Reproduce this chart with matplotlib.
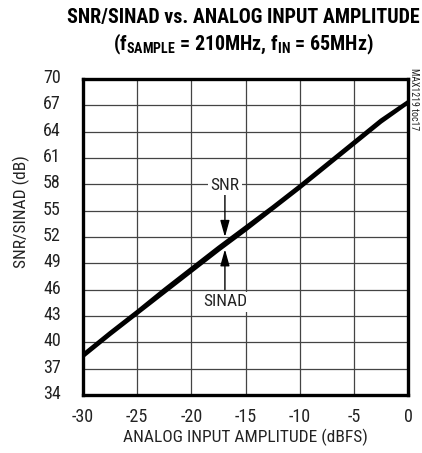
import matplotlib
matplotlib.use("Agg")
import matplotlib.pyplot as plt
import matplotlib.transforms as mtransforms
from matplotlib import font_manager

amplitude_dbfs = [-30, -27.5, -25, -22.5, -20, -17.5, -15, -12.5, -10, -7.5, -5, -2.5, 0]
snr_db = [38.6, 41.1, 43.5, 46.0, 48.4, 50.8, 53.1, 55.4, 57.8, 60.3, 62.8, 65.3, 67.4]
sinad_db = [38.4, 40.9, 43.3, 45.7, 48.1, 50.5, 52.8, 55.2, 57.6, 60.1, 62.6, 65.1, 67.3]
x_ticks = [-30, -25, -20, -15, -10, -5, 0]
y_ticks = [34, 37, 40, 43, 46, 49, 52, 55, 58, 61, 64, 67, 70]

names = {f.name for f in font_manager.fontManager.ttflist}
narrow = "Roboto Condensed" if "Roboto Condensed" in names else "DejaVu Sans"
plt.rcParams['font.family'] = [narrow, 'DejaVu Sans']
plt.rcParams['mathtext.fontset'] = 'custom'
plt.rcParams['mathtext.rm'] = narrow
plt.rcParams['mathtext.bf'] = narrow + ':bold'

TXT = '#222222'
fig = plt.figure(figsize=(4.22, 4.53), dpi=100)
ax = fig.add_axes([83/422, 1-395/453, (408-83)/422, (395-79)/453])

ax.set_xlim(-30, 0)
ax.set_ylim(34, 70)
ax.set_xticks(x_ticks)
ax.set_yticks(y_ticks)
ax.set_xticklabels([str(v) for v in x_ticks])
ax.set_yticklabels([str(v) for v in y_ticks])
ax.tick_params(length=0, labelsize=13, colors=TXT)
ax.tick_params(axis='x', pad=9)
ax.tick_params(axis='y', pad=16)
up = mtransforms.ScaledTranslation(0, 3/100, fig.dpi_scale_trans)
for lbl in ax.get_yticklabels():
    lbl.set_transform(lbl.get_transform() + up)
ax.grid(True, color='#444444', linewidth=0.9)
ax.set_axisbelow(True)
for s in ax.spines.values():
    s.set_linewidth(2.4)
    s.set_color('black')

ax.plot(amplitude_dbfs, snr_db, color='black', linewidth=2.5, solid_capstyle='butt', zorder=3)
ax.plot(amplitude_dbfs, sinad_db, color='black', linewidth=2.5, solid_capstyle='butt', zorder=3)

ax.set_xlabel("ANALOG INPUT AMPLITUDE (dBFS)", fontsize=12.5, color=TXT)
ax.xaxis.set_label_coords(0.5, -(437-395)/316, transform=ax.transAxes)
ax.xaxis.label.set_va('center')
ax.set_ylabel("SNR/SINAD (dB)", fontsize=12.5, color=TXT)
ax.yaxis.set_label_coords((21-83)/325, (395-212)/316)
ax.yaxis.label.set_va('center')

# annotations
ax.annotate("", xy=(-16.9, 52.0), xytext=(-16.9, 57.0),
            arrowprops=dict(arrowstyle='-|>,head_length=1.0,head_width=0.28', color='black', lw=1.0, shrinkA=0, shrinkB=0), zorder=4)
ax.annotate("", xy=(-16.9, 50.6), xytext=(-16.9, 46.0),
            arrowprops=dict(arrowstyle='-|>,head_length=1.0,head_width=0.28', color='black', lw=1.0, shrinkA=0, shrinkB=0), zorder=4)
ax.text(-16.9, 57.9, "SNR", ha='center', va='center', fontsize=12.5, color=TXT,
        bbox=dict(facecolor='white', edgecolor='none', pad=2), zorder=5)
ax.text(-16.9, 44.6, "SINAD", ha='center', va='center', fontsize=12.5, color=TXT,
        bbox=dict(facecolor='white', edgecolor='none', pad=2), zorder=5)

cx = 243 / 422
fig.text(cx, 1-18/453, "SNR/SINAD vs. ANALOG INPUT AMPLITUDE", ha='center', va='center',
         fontsize=14.4, fontweight='bold')
fig.text(cx, 1-44/453, r"(f$_{\mathbf{SAMPLE}}$ = 210MHz, f$_{\mathbf{IN}}$ = 65MHz)", ha='center', va='center',
         fontsize=14.4, fontweight='bold')
fig.text(414/422, 1-99/453, "MAX1219 toc17", rotation=270, ha='center', va='center', fontsize=7, color=TXT)

fig.savefig("out.png", dpi=100)
